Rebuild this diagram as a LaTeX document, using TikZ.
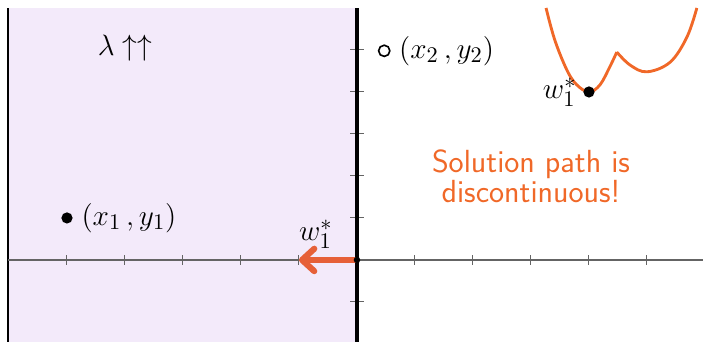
\documentclass[tikz,border=0pt]{standalone}
\usetikzlibrary{arrows.meta}
\definecolor{regionfill}{RGB}{243,234,250}
\definecolor{pathorange}{RGB}{240,104,40}
\definecolor{arroworange}{RGB}{230,96,56}
\definecolor{axisgray}{RGB}{100,100,100}
\begin{document}
\begin{tikzpicture}[x=1cm, y=0.7241cm,
  every node/.style={font=\fontsize{15.8}{15.8}\selectfont, inner sep=2pt},
  axisline/.style={axisgray, line width=0.75pt},
  tickmark/.style={axisgray, line width=0.5pt},
  solarrow/.style={arroworange, line width=3pt, -{Straight Barb[length=6pt, width=11pt, round]}},
  losscurve/.style={pathorange, line width=1.4pt, line join=round},
  fulldot/.style={circle, fill=black, minimum size=5.5pt, inner sep=0pt},
  opendot/.style={circle, draw=black, line width=0.8pt, fill=white, minimum size=5.5pt, inner sep=0pt}]
  \useasboundingbox (-6.155,-1.952) rectangle (5.966,6.19);
  \fill[regionfill] (-6.017,-1.952) rectangle (0,6);
  \draw[black, line width=0.5pt] (-6.017,-1.952) -- (-6.017,6);
  \draw[axisline] (-6.017,0) -- (5.966,0);
  \foreach \x in {-5,...,-1,1,2,...,5} \draw[tickmark] (\x,-0.12) -- (\x,0.12);
  \foreach \y in {-1,1,2,...,5} \draw[tickmark] (-0.12,\y) -- (0.12,\y);
  \draw[black, line width=1.5pt] (0,-1.952) -- (0,6);
  \coordinate (O) at (0,0);
  \coordinate (tip) at (-1,0);
  \draw[solarrow] (O) -- (tip);
  \fill[black] (O) circle (1.6pt);
  \node (wleft) at (-0.71,0.62) {$w_1^*$};
  \node (lam) at (-4,5.05) {$\lambda\uparrow\uparrow$};
  \node[fulldot] (p1) at (-5,1) {};
  \node[right=2pt] (p1lab) at (p1.east) {$(x_1\,, y_1)$};
  \node[opendot] (p2) at (0.47,4.98) {};
  \node[right=2pt] (p2lab) at (p2.east) {$(x_2\,, y_2)$};
  \draw[losscurve] plot[smooth, tension=0.6] coordinates {(3.26,6) (3.41,5.24) (3.62,4.52) (3.79,4.17) (4,4) (4.19,4.17) (4.36,4.6) (4.48,4.95)};
  \draw[losscurve] plot[smooth, tension=0.6] coordinates {(4.48,4.95) (4.71,4.64) (5,4.48) (5.4,4.71) (5.69,5.31) (5.86,6)};
  \node[fulldot] (wmin) at (4,4) {};
  \node[left=1pt] (wright) at (wmin.west) {$w_1^*$};
  \node[pathorange, align=center, font=\sffamily\fontsize{15.7}{14.8}\selectfont] (msg) at (3,2) {Solution path is\\discontinuous!};
\end{tikzpicture}
\end{document}
